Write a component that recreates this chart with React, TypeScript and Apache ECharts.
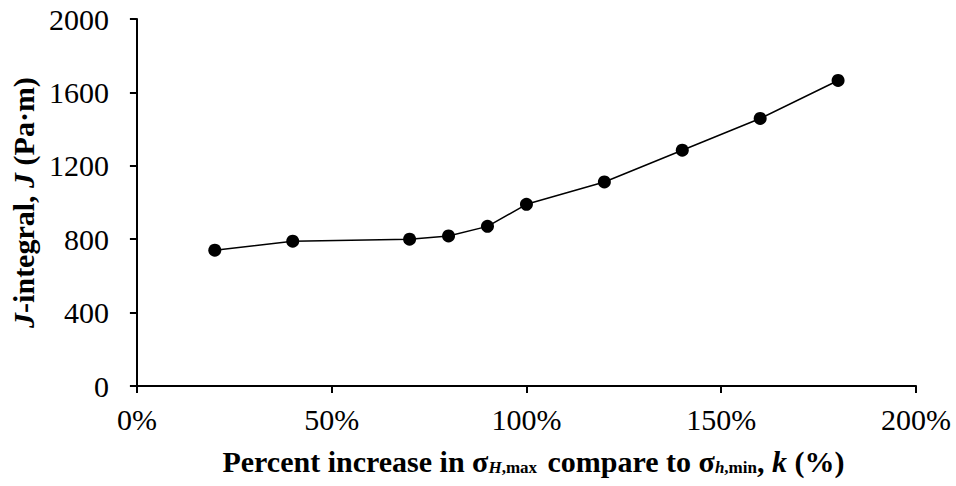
import React, { useEffect, useRef } from "react";
import * as echarts from "echarts";

const kPercent = [20, 40, 70, 80, 90, 100, 120, 140, 160, 180];
const jValues = [740, 789, 800, 818, 870, 990, 1112, 1285, 1458, 1665];
const xTicks = { min: 0, max: 200, interval: 50 };
const yTicks = { min: 0, max: 2000, interval: 400 };

const FONT = "Liberation Serif";

export default function App() {
  const ref = useRef<HTMLDivElement>(null);
  useEffect(() => {
    if (!ref.current) return;
    const chart = echarts.init(ref.current, undefined, { renderer: "svg" });
    chart.setOption({
      animation: false,
      grid: { left: 133, right: 40, top: 19, bottom: 100 },
      xAxis: {
        type: "value",
        min: xTicks.min,
        max: xTicks.max,
        interval: xTicks.interval,
        splitLine: { show: false },
        axisLine: { lineStyle: { color: "#000", width: 2 } },
        axisTick: { inside: false, length: 7, lineStyle: { color: "#000", width: 2 } },
        axisLabel: {
          formatter: "{value}%",
          color: "#000",
          fontFamily: FONT,
          fontSize: 30,
          margin: 18,
        },
        name: "Percent increase in σ{si|H}{s|,max} compare to σ{si|h}{s2|,min}, {it|k} (%)",
        nameLocation: "middle",
        nameGap: 60,
        nameTextStyle: {
          color: "#000",
          fontFamily: FONT,
          fontSize: 30,
          fontWeight: "bold",
          padding: [0, 0, 0, 14],
          rich: {
            si: { fontFamily: FONT, fontSize: 17, fontStyle: "italic", fontWeight: "bold", color: "#000", verticalAlign: "bottom", padding: [11, 0, 0, 0] },
            s: { fontFamily: FONT, fontSize: 17, fontWeight: "bold", color: "#000", verticalAlign: "bottom", padding: [11, 3, 0, 0] },
            s2: { fontFamily: FONT, fontSize: 17, fontWeight: "bold", color: "#000", verticalAlign: "bottom", padding: [11, 0, 0, 0] },
            it: { fontFamily: FONT, fontSize: 30, fontStyle: "italic", fontWeight: "bold", color: "#000" },
          },
        },
      },
      yAxis: {
        type: "value",
        min: yTicks.min,
        max: yTicks.max,
        interval: yTicks.interval,
        splitLine: { show: false },
        axisLine: { show: true, lineStyle: { color: "#000", width: 2 } },
        axisTick: { show: true, length: 7, lineStyle: { color: "#000", width: 2 } },
        axisLabel: {
          formatter: (v: number) => String(v),
          color: "#000",
          fontFamily: FONT,
          fontSize: 30,
          margin: 28,
        },
        name: "{it|J}-integral, {it|J} (Pa·m)",
        nameLocation: "middle",
        nameGap: 94,
        nameTextStyle: {
          color: "#000",
          fontFamily: FONT,
          fontSize: 30,
          fontWeight: "bold",
          rich: {
            it: { fontFamily: FONT, fontSize: 30, fontStyle: "italic", fontWeight: "bold", color: "#000" },
          },
        },
      },
      series: [
        {
          type: "line",
          data: kPercent.map((k, i) => [k, jValues[i]]),
          symbol: "circle",
          symbolSize: 13,
          itemStyle: { color: "#000" },
          lineStyle: { color: "#000", width: 1.5 },
        },
      ],
    });
    return () => chart.dispose();
  }, []);
  return (
    <div
      ref={ref}
      style={{ position: "absolute", left: 0, top: 0, width: 956, height: 486 }}
    />
  );
}
